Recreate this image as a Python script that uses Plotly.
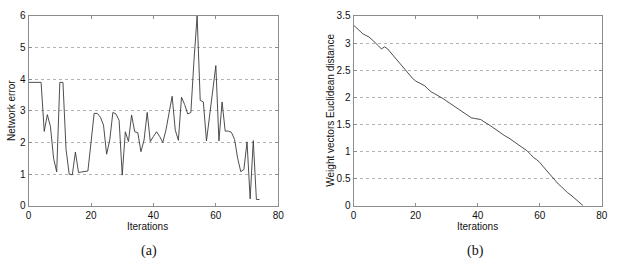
import plotly.graph_objects as go

iterations = list(range(75))

network_error = [
    3.9, 3.9, 3.9, 3.9, 3.9, 2.35, 2.88, 2.5, 1.5, 1.07,
    3.9, 3.9, 1.78, 1.0, 0.98, 1.7, 1.05, 1.07, 1.08, 1.1,
    2.0, 2.92, 2.92, 2.8, 2.55, 1.63, 2.08, 2.95, 2.9, 2.7,
    0.97, 2.34, 2.03, 2.87, 2.34, 2.31, 1.71, 2.08, 2.95, 2.03,
    2.19, 2.34, 2.19, 2.0, 2.39, 2.95, 3.46, 2.39, 2.07, 3.43,
    3.2, 2.9, 2.95, 4.6, 6.0, 3.33, 3.28, 2.05, 2.85, 3.6,
    4.43, 2.05, 3.28, 2.36, 2.36, 2.32, 2.1, 1.5, 1.08, 1.15,
    2.02, 0.22, 2.06, 0.2, 0.2,
]

euclid_dist = [
    3.33, 3.27, 3.21, 3.17, 3.14, 3.11, 3.06, 3.01, 2.95, 2.89,
    2.93, 2.89, 2.82, 2.75, 2.68, 2.61, 2.55, 2.48, 2.41, 2.35,
    2.30, 2.27, 2.24, 2.21, 2.15, 2.10, 2.07, 2.04, 2.01, 1.97,
    1.93, 1.89, 1.86, 1.82, 1.77, 1.73, 1.69, 1.65, 1.62, 1.61,
    1.60, 1.59, 1.55, 1.52, 1.48, 1.44, 1.40, 1.36, 1.31, 1.28,
    1.25, 1.21, 1.17, 1.13, 1.10, 1.06, 1.01, 0.95, 0.89, 0.85,
    0.80, 0.73, 0.66, 0.60, 0.54, 0.47, 0.40, 0.35, 0.29, 0.24,
    0.20, 0.15, 0.09, 0.04, 0.0,
]

x_ticks = [0, 20, 40, 60, 80]
left_y_ticks = [0, 1, 2, 3, 4, 5, 6]
right_y_ticks = [0, 0.5, 1, 1.5, 2, 2.5, 3, 3.5]
right_y_labels = ["0", "0.5", "1", "1.5", "2", "2.5", "3", "3.5"]

W, H = 618, 270
LINE = "#3a3a3a"
FRAME = "#8c8c8c"
GRID = "#b4b4b4"
FONT = "Liberation Sans"

fig = go.Figure()
fig.add_trace(go.Scatter(x=iterations, y=network_error, mode="lines",
                         line=dict(color=LINE, width=0.9), xaxis="x", yaxis="y",
                         showlegend=False))
fig.add_trace(go.Scatter(x=iterations, y=euclid_dist, mode="lines",
                         line=dict(color=LINE, width=0.9), xaxis="x2", yaxis="y2",
                         showlegend=False))

def px_x(p):
    return p / W

def px_y(p):
    return 1 - p / H

ydom = [px_y(208.3), px_y(10.3)]
common_axis = dict(showline=True, linecolor=FRAME, linewidth=1, mirror="ticks",
                   ticks="inside", ticklen=3, tickcolor=FRAME, zeroline=False,
                   tickfont=dict(family=FONT, size=10, color="#111"))

fig.update_layout(
    width=W, height=H,
    margin=dict(l=0, r=0, t=0, b=0),
    paper_bgcolor="white", plot_bgcolor="white",
    xaxis=dict(domain=[px_x(26), px_x(279.3)], range=[0, 80], tickvals=x_ticks,
               showgrid=False, anchor="y", **common_axis),
    yaxis=dict(domain=ydom, range=[0, 6], tickvals=left_y_ticks, showgrid=True,
               gridcolor=GRID, griddash="dot", gridwidth=1, anchor="x", **common_axis),
    xaxis2=dict(domain=[px_x(355.7), px_x(607.7)], range=[0, 80], tickvals=x_ticks,
                showgrid=False, anchor="y2", **common_axis),
    yaxis2=dict(domain=ydom, range=[0, 3.5], tickvals=right_y_ticks,
                ticktext=right_y_labels, showgrid=True, gridcolor=GRID,
                griddash="dot", gridwidth=1, anchor="x2", **common_axis),
)

ann_font = dict(family=FONT, size=10, color="#111")
fig.add_annotation(text="Iterations", x=px_x(147), y=px_y(229.5), xref="paper", yref="paper",
                   showarrow=False, font=ann_font, xanchor="center", yanchor="middle")
fig.add_annotation(text="Iterations", x=px_x(482), y=px_y(229.5), xref="paper", yref="paper",
                   showarrow=False, font=ann_font, xanchor="center", yanchor="middle")
fig.add_annotation(text="Network error", x=px_x(8.5), y=px_y(109), xref="paper", yref="paper",
                   showarrow=False, font=ann_font, textangle=-90,
                   xanchor="center", yanchor="middle")
fig.add_annotation(text="Weight vectors Euclidean distance", x=px_x(332), y=px_y(109),
                   xref="paper", yref="paper", showarrow=False, font=ann_font,
                   textangle=-90, xanchor="center", yanchor="middle")

cap_font = dict(family="Liberation Serif", size=14, color="#111")
fig.add_annotation(text="(a)", x=px_x(148), y=px_y(255), xref="paper", yref="paper",
                   showarrow=False, font=cap_font, xanchor="center", yanchor="middle")
fig.add_annotation(text="(b)", x=px_x(479), y=px_y(255), xref="paper", yref="paper",
                   showarrow=False, font=cap_font, xanchor="center", yanchor="middle")

fig.write_html("out.html")
